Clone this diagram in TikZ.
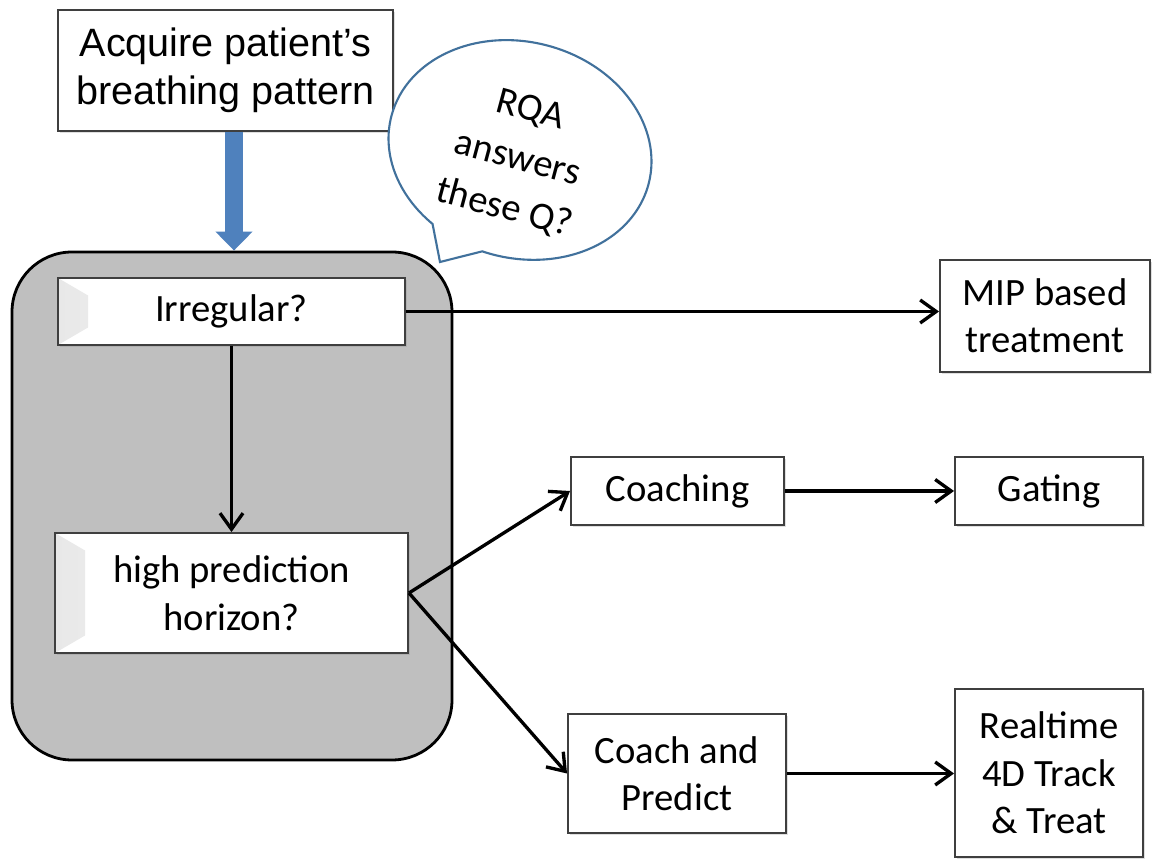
\documentclass[tikz,border=0pt]{standalone}
\usepackage{fontspec}
\setmainfont{Carlito}
\newfontfamily\arialfont{Liberation Sans}
\usepackage{tikz}
\usetikzlibrary{arrows.meta,calc,shadows,shapes.callouts}
\definecolor{NoteBlue}{HTML}{41719C}
\definecolor{ArrowBlue}{HTML}{4F81BD}
\definecolor{PanelGrey}{HTML}{BFBFBF}
\definecolor{BoxEdge}{HTML}{3F3F3F}

\begin{document}
\begin{tikzpicture}[x=1cm,y=1cm,
    every node/.style={font=\fontsize{22}{27}\selectfont},
    plainbox/.style={draw=BoxEdge, line width=1.1pt, fill=white, align=center, inner sep=2pt,
      drop shadow={opacity=0.25, shadow xshift=1.2pt, shadow yshift=-1.2pt}},
    bevelbox/.style={plainbox, path picture={
      \shade[left color=black!9, right color=white] (path picture bounding box.south west) -- (path picture bounding box.north west)
        -- ([shift={(0.6,-0.35)}]path picture bounding box.north west) -- ([shift={(0.6,0.35)}]path picture bounding box.south west) -- cycle;}},
    flow/.style={-{Straight Barb[length=3.2mm,width=4.6mm]}, line width=1.9pt},
  ]
    \path[use as bounding box, fill=white] (0,0) rectangle (23.06,17.2);

    % left panel with the two questions
    \node[draw=black, line width=1.6pt, fill=PanelGrey, rounded corners=1.2cm, minimum width=8.8cm, minimum height=10.16cm] (panel) at (4.64,7.08) {};
    \node[bevelbox, minimum width=6.94cm, minimum height=1.34cm] (irregular) at (4.63,10.97) {Irregular?};
    \node[bevelbox, minimum width=7.06cm, minimum height=2.40cm] (horizon) at (4.63,5.34) {high prediction\\horizon?};

    \node[plainbox, minimum width=6.70cm, minimum height=2.42cm, font=\arialfont\fontsize{22.5}{27}\selectfont] (acquire) at (4.51,15.79) {Acquire patient’s\\breathing pattern};
    \node[ellipse callout, draw=NoteBlue, line width=1.2pt, fill=white, rotate=-15, minimum width=5.32cm, minimum height=4.32cm, inner sep=0pt,
      callout absolute pointer={(8.8,11.96)}, callout pointer arc=25, align=center, font=\fontsize{22}{29}\selectfont] (note) at (10.4,14.2) {\rule{0pt}{0.9cm}RQA\\answers\\these Q?};

    % outcomes
    \node[plainbox, minimum width=4.20cm, minimum height=2.24cm] (mip) at (20.90,10.88) {MIP based\\treatment};
    \node[plainbox, minimum width=4.26cm, minimum height=1.36cm] (coaching) at (13.55,7.38) {Coaching};
    \node[plainbox, minimum width=3.76cm, minimum height=1.36cm] (gating) at (20.98,7.38) {Gating};
    \node[plainbox, minimum width=4.36cm, minimum height=2.38cm] (coachpred) at (13.54,1.73) {Coach and\\Predict};
    \node[plainbox, minimum width=3.76cm, minimum height=3.36cm] (realtime) at (20.98,1.74) {Realtime\\4D Track\\\& Treat};

    \draw[line width=0.36cm, ArrowBlue, -{Triangle[width=0.72cm,length=0.38cm]}] ([xshift=0.17cm]acquire.south) -- ([xshift=0.17cm]acquire.south |- panel.north);
    \draw[flow] (irregular.east) -- (irregular.east -| mip.west);
    \draw[flow] (irregular.south) -- (horizon.north);
    \draw[flow] (horizon.east) -- (coaching.west);
    \draw[flow] (horizon.east) -- (coachpred.west);
    \draw[flow] (coaching.east) -- (gating.west);
    \draw[flow] (coachpred.east) -- (coachpred.east -| realtime.west);
  \end{tikzpicture}
\end{document}
